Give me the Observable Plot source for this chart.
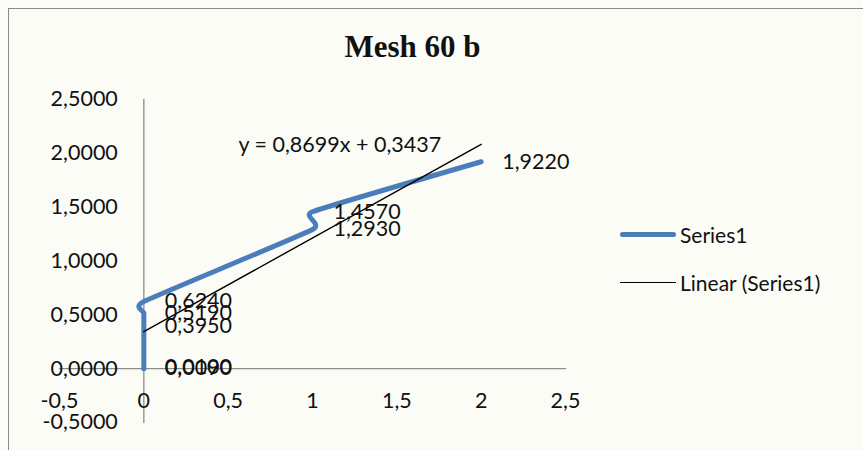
<!DOCTYPE html>
<html>
<head>
<meta charset="utf-8">
<script src="https://cdn.jsdelivr.net/npm/d3@7"></script>
<script src="https://cdn.jsdelivr.net/npm/@observablehq/plot@0.6"></script>
<style>
  html, body { margin: 0; padding: 0; background: #fcfcf6; }
  #wrap { position: relative; width: 863px; height: 450px; overflow: hidden; background: #fcfcf6; }
  #frame { position: absolute; left: 8px; top: 8px; width: 900px; height: 500px; border-left: 1.5px solid #8a8a8a; border-top: 1.5px solid #8a8a8a; }
  #title { position: absolute; left: 0; width: 825px; top: 29px; text-align: center; font-family: "Liberation Serif", "DejaVu Serif", serif; font-weight: bold; font-size: 31px; color: #111; line-height: 1.15; }
  .leg { position: absolute; left: 620px; font-family: Lato, "Open Sans", sans-serif; font-size: 21px; color: #111; display: flex; align-items: center; }
  .leg span.sw { display: inline-block; width: 56px; margin-right: 4px; }
  svg { position: absolute; left: 0; top: 0; }
</style>
</head>
<body>
<div id="wrap">
  <div id="frame"></div>
  <div id="title">Mesh 60 b</div>
  <div class="leg" style="top:222px"><span class="sw" style="height:5px;background:#4a7ebb;border-radius:3px"></span>Series1</div>
  <div class="leg" style="top:270px"><span class="sw" style="height:1.5px;background:#000"></span>Linear (Series1)</div>
</div>
<script>
// Data
const xValues = [0, 0, 0, 0, 0, 1, 1, 2];
const yValues = [0.0090, 0.0100, 0.3950, 0.5190, 0.6240, 1.2930, 1.4570, 1.9220];
const slope = 0.8699;
const intercept = 0.3437;
const equationText = "y = 0,8699x + 0,3437";
const yTicks = [-0.5, 0, 0.5, 1.0, 1.5, 2.0, 2.5];
const xTicks = [-0.5, 0, 0.5, 1, 1.5, 2, 2.5];

const comma = s => s.replace(".", ",").replace("\u2212", "-");
const fmtY = d => comma(d3.format(".4f")(d));
const fmtX = d => comma(String(d));

const points = xValues.map((x, i) => ({x, y: yValues[i]}));
const trend = [0, 2].map(x => ({x, y: slope * x + intercept}));

const font = "Lato, 'Open Sans', sans-serif";
const fs = 21.5;

const chart = Plot.plot({
  width: 863,
  height: 450,
  marginLeft: 59,
  marginRight: 298,
  marginTop: 99,
  marginBottom: 28,
  x: {domain: [-0.5, 2.5], axis: null},
  y: {domain: [-0.5, 2.5], axis: null},
  style: {background: "transparent", fontFamily: font},
  marks: [
    Plot.lineX([-0.5, 2.5], {x: d => d, y: 0, stroke: "#8c8c8c", strokeWidth: 1.3}),
    Plot.lineY([-0.5, 2.5], {x: 0, y: d => d, stroke: "#8c8c8c", strokeWidth: 1.3}),
    Plot.text(yTicks, {x: 0, y: d => d, text: fmtY, textAnchor: "end", dx: -26, fontSize: fs, fill: "#111"}),
    Plot.text(xTicks, {x: d => d, y: 0, text: fmtX, dy: 32, fontSize: fs, fill: "#111"}),
    Plot.line(points, {x: "x", y: "y", curve: "cardinal", tension: 0.6, stroke: "#4a7ebb", strokeWidth: 5, strokeLinecap: "round", strokeLinejoin: "round"}),
    Plot.line(trend, {x: "x", y: "y", stroke: "#000", strokeWidth: 1.4}),
    Plot.text(points, {x: "x", y: "y", text: d => fmtY(d.y), textAnchor: "start", dx: 21, fontSize: fs, fill: "#111"}),
    Plot.text([trend[1]], {x: "x", y: "y", text: () => equationText, textAnchor: "end", dx: -40, dy: 1, fontSize: fs, fill: "#111"})
  ]
});
document.getElementById("wrap").appendChild(chart);
</script>
</body>
</html>
